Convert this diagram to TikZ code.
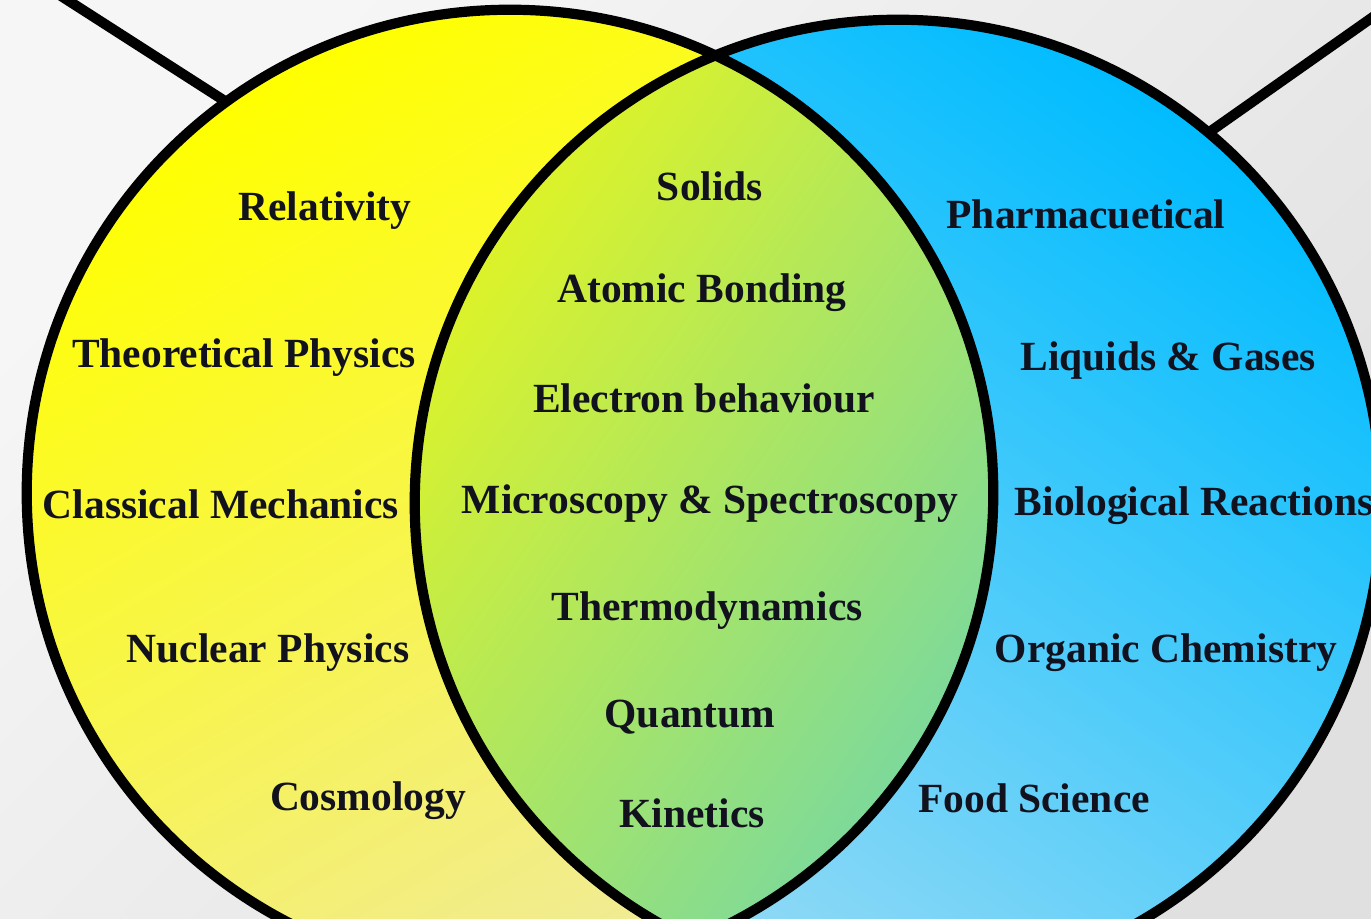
\documentclass[tikz,border=0pt]{standalone}
\usepackage{fontspec}
\setmainfont{Liberation Serif}

\definecolor{ink}{RGB}{18,18,30}
\definecolor{paperlo}{RGB}{246,246,246}
\definecolor{paperhi}{RGB}{224,224,224}
\definecolor{sunhi}{RGB}{255,255,0}
\definecolor{sunmid}{RGB}{255,252,45}
\definecolor{sunlo}{RGB}{240,234,155}
\definecolor{skyhi}{RGB}{0,188,255}
\definecolor{skymid}{RGB}{20,194,252}
\definecolor{skylo}{RGB}{150,218,245}
\definecolor{leafhi}{RGB}{225,244,35}
\definecolor{leafmid}{RGB}{165,228,110}
\definecolor{leaflo}{RGB}{120,216,160}

\begin{document}
\begin{tikzpicture}[x=0.01cm, y=-0.01cm,
    field/.style={circle, minimum size=9.66cm, inner sep=0pt},
    rim/.style={line width=2.9pt, black},
    topic/.style={anchor=base, text=ink, font=\bfseries\fontsize{11.8}{14}\selectfont}
]
    \useasboundingbox (0,0) rectangle (1371,918);
    \clip (0,0) rectangle (1371,918);

    % backdrop
    \shade[top color=paperlo, bottom color=paperhi, shading angle=45] (0,0) rectangle (1371,918);

    % physics disc
    \node[field, top color=sunhi, middle color=sunmid, bottom color=sunlo, shading angle=30] (phys) at (510,493) {};

    % chemistry disc
    \node[field, top color=skyhi, middle color=skymid, bottom color=skylo, shading angle=-35] (chem) at (898,503) {};

    % overlap
    \begin{scope}
        \clip (phys.center) circle[radius=4.83cm];
        \clip (chem.center) circle[radius=4.83cm];
        \shade[top color=leafhi, middle color=leafmid, bottom color=leaflo, shading angle=55]
            (415,56) rectangle (997,940);
    \end{scope}

    % outlines and leader lines
    \draw[rim] (phys.center) circle[radius=4.83cm];
    \draw[rim] (chem.center) circle[radius=4.83cm];
    \coordinate (physend) at (58,-6);
    \coordinate (chemend) at (1380,12);
    \draw[rim] (physend) -- (phys.126);
    \draw[rim] (chemend) -- (chem.50.5);

    % physics only
    \node[topic] (rel)     at (325,220) {Relativity};
    \node[topic] (theo)    at (244,367) {Theoretical Physics};
    \node[topic] (classic) at (221,518) {Classical Mechanics};
    \node[topic] (nuclear) at (268,662) {Nuclear Physics};
    \node[topic] (cosmo)   at (368,810) {Cosmology};

    % shared
    \node[topic] (solids)   at (710,200) {Solids};
    \node[topic] (bonding)  at (702,302) {Atomic Bonding};
    \node[topic] (electron) at (704,412) {Electron behaviour};
    \node[topic] (micro)    at (710,513) {Microscopy \& Spectroscopy};
    \node[topic] (thermo)   at (707,620) {Thermodynamics};
    \node[topic] (quantum)  at (690,727) {Quantum};
    \node[topic] (kinetics) at (692,827) {Kinetics};

    % chemistry only
    \node[topic] (pharma)  at (1086,228) {Pharmacuetical};
    \node[topic] (fluids)  at (1168,370) {Liquids \& Gases};
    \node[topic] (bioreact) at (1194,515) {Biological Reactions};
    \node[topic] (organic) at (1166,662) {Organic Chemistry};
    \node[topic] (food)    at (1034,812) {Food Science};
\end{tikzpicture}
\end{document}
